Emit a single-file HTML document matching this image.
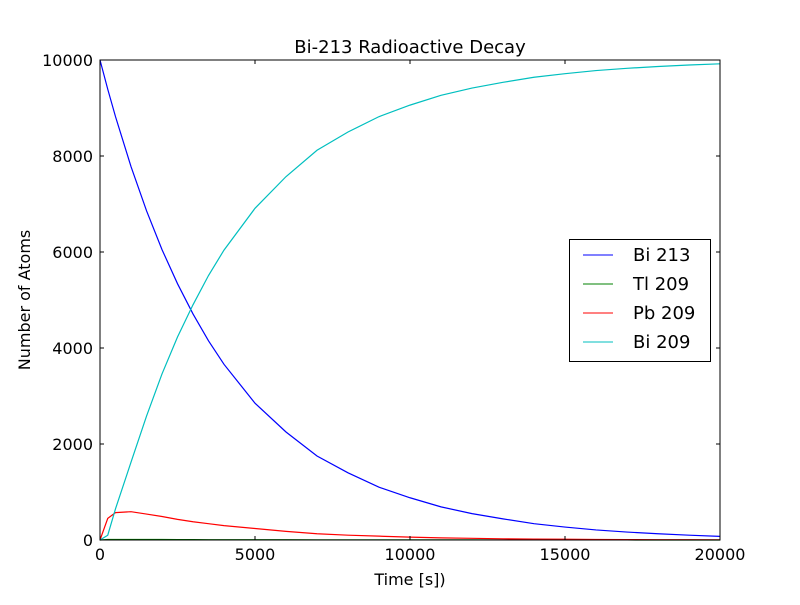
<!DOCTYPE html>
<html><head><meta charset="utf-8"><style>
body{margin:0;background:#fff;}
svg text{font-family:"DejaVu Sans","Liberation Sans",sans-serif;fill:#000;}
</style></head><body>
<svg id="chart" width="800" height="600" xmlns="http://www.w3.org/2000/svg">
<rect width="800" height="600" fill="#fff"/>
<text x="410" y="53" font-size="18" text-anchor="middle">Bi-213 Radioactive Decay</text>
<text x="410" y="585" font-size="16" text-anchor="middle">Time [s])</text>
<text x="30" y="300" font-size="16" text-anchor="middle" transform="rotate(-90 30 300)">Number of Atoms</text>
<g id="series"></g>
<g id="ticks"></g>
<rect x="100" y="60" width="620" height="480" fill="none" stroke="#000" stroke-width="1"/>
<g>
<rect x="569.5" y="239.5" width="141" height="122" fill="#fff" stroke="#000"/>
<line x1="583" y1="255" x2="613" y2="255" stroke="#0000ff"/><text x="633" y="261" font-size="18">Bi 213</text>
<line x1="583" y1="284" x2="613" y2="284" stroke="#008000"/><text x="633" y="290" font-size="18">Tl 209</text>
<line x1="583" y1="313" x2="613" y2="313" stroke="#ff0000"/><text x="633" y="319" font-size="18">Pb 209</text>
<line x1="583" y1="342" x2="613" y2="342" stroke="#00bfbf"/><text x="633" y="348" font-size="18">Bi 209</text>
</g>
</svg>
<script>
const times=[0,250,500,1000,1500,2000,2500,3000,3500,4000,5000,6000,7000,8000,9000,10000,11000,12000,13000,14000,15000,16000,17000,18000,19000,20000];
const bi213=[10000,9390,8820,7780,6860,6050,5340,4710,4150,3660,2850,2250,1750,1400,1100,880,690,550,440,340,270,210,165,130,100,75];
const tl209=[0,10,12,12,11,10,9,8,7,7,6,5,4,3,3,2,2,2,1,1,1,1,1,0,0,0];
const pb209=[0,450,570,590,540,490,430,380,340,300,240,180,130,100,80,60,45,35,25,20,15,10,8,6,5,4];
const bi209=[0,100,650,1620,2580,3460,4230,4900,5510,6040,6910,7570,8120,8500,8820,9060,9265,9415,9535,9640,9715,9780,9827,9864,9896,9921];
const xTicks=[0,5000,10000,15000,20000];
const yTicks=[0,2000,4000,6000,8000,10000];
const X=v=>100+v/20000*620, Y=v=>540-v/10000*480;
const NS="http://www.w3.org/2000/svg";
const sg=document.getElementById('series'), tg=document.getElementById('ticks');
function line(vals,color,name){
  const p=document.createElementNS(NS,'polyline');
  p.setAttribute('points',times.map((t,i)=>X(t)+','+Y(vals[i])).join(' '));
  p.setAttribute('fill','none');p.setAttribute('stroke',color);p.setAttribute('stroke-width','1.2');
  
  
  sg.appendChild(p);
}
line(bi213,'#0000ff','series-bi213');
line(tl209,'#008000','series-tl209');
line(pb209,'#ff0000','series-pb209');
line(bi209,'#00bfbf','series-bi209');
function mk(tag,attrs){const e=document.createElementNS(NS,tag);for(const k in attrs)e.setAttribute(k,attrs[k]);tg.appendChild(e);return e;}
xTicks.forEach(v=>{
  const x=X(v);
  mk('line',{x1:x,y1:540,x2:x,y2:536,stroke:'#000'});
  mk('line',{x1:x,y1:60,x2:x,y2:64,stroke:'#000'});
  const t=mk('text',{x:x,y:560,'font-size':16,'text-anchor':'middle'});t.textContent=v;
  
  
});
yTicks.forEach(v=>{
  const y=Y(v);
  mk('line',{x1:100,y1:y,x2:104,y2:y,stroke:'#000'});
  mk('line',{x1:720,y1:y,x2:716,y2:y,stroke:'#000'});
  const t=mk('text',{x:93,y:y+6,'font-size':16,'text-anchor':'end'});t.textContent=v;
  
  
});
</script>
</body></html>
